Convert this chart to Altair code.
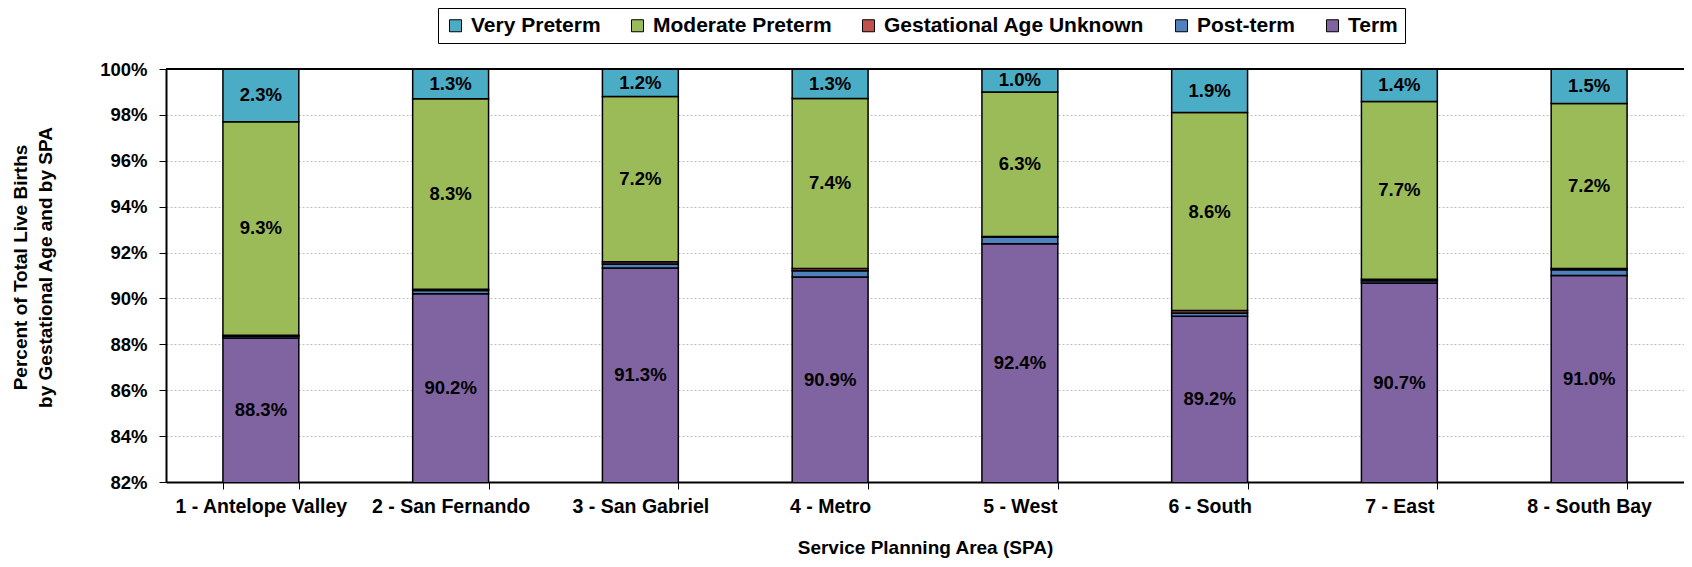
import altair as alt
import pandas as pd

spa = ["1 - Antelope Valley", "2 - San Fernando", "3 - San Gabriel", "4 - Metro",
       "5 - West", "6 - South", "7 - East", "8 - South Bay"]
term = [88.28, 90.20, 91.33, 90.93, 92.38, 89.22, 90.67, 91.00]
post_term = [0.07, 0.15, 0.17, 0.28, 0.30, 0.15, 0.10, 0.25]
unknown = [0.05, 0.05, 0.10, 0.10, 0.02, 0.10, 0.07, 0.05]
moderate = [9.3, 8.3, 7.2, 7.4, 6.3, 8.63, 7.74, 7.2]
very = [2.3, 1.3, 1.2, 1.3, 1.0, 1.9, 1.42, 1.5]

groups = ["Very Preterm", "Moderate Preterm", "Gestational Age Unknown", "Post-term", "Term"]
colors = ["#4BACC6", "#9BBB59", "#C0504D", "#4F81BD", "#8064A2"]
stack_order = {"Term": 0, "Post-term": 1, "Gestational Age Unknown": 2,
               "Moderate Preterm": 3, "Very Preterm": 4}
labelled = ["Term", "Moderate Preterm", "Very Preterm"]

series = {"Term": term, "Post-term": post_term, "Gestational Age Unknown": unknown,
          "Moderate Preterm": moderate, "Very Preterm": very}
rows = []
for g, vals in series.items():
    for s, v in zip(spa, vals):
        rows.append({"spa": s, "group": g, "value": v, "ord": stack_order[g]})
df = pd.DataFrame(rows)

FONT = "Liberation Sans"

x_enc = alt.X("spa:N", sort=spa, title="Service Planning Area (SPA)",
              scale=alt.Scale(paddingInner=0.6, paddingOuter=0.3),
              axis=alt.Axis(labelAngle=0, tickBand="extent", tickSize=7, tickColor="black",
                            tickWidth=1, domainColor="black", domainWidth=2,
                            labelFontSize=19.5, labelFontWeight="bold", labelColor="black",
                            labelPadding=8, titleFontSize=19, titleFontWeight="bold",
                            titlePadding=23, titleColor="black", grid=False))

y_scale = alt.Scale(domain=[82, 100], nice=False, zero=False)

base = alt.Chart(df).transform_stack(
    stack="value", groupby=["spa"], as_=["y0", "y1"],
    sort=[alt.SortField("ord", order="ascending")]
).transform_calculate(
    mid="(max(datum.y0, 82) + datum.y1) / 2",
    lab="format(datum.value, '.1f') + '%'"
)

bars = base.mark_bar(stroke="black", strokeWidth=1.5, clip=True).encode(
    x=x_enc,
    y=alt.Y("y0:Q", scale=y_scale,
            title=["Percent of Total Live Births", "by Gestational Age and by SPA"],
            axis=alt.Axis(values=[82, 84, 86, 88, 90, 92, 94, 96, 98, 100],
                          labelExpr="datum.value + '%'",
                          labelFontSize=18.5, labelFontWeight="bold", labelColor="black",
                          labelPadding=12, tickSize=7, tickColor="black",
                          domainColor="black", domainWidth=2,
                          grid=True, gridColor="#c0c0c0", gridDash=[2, 2], gridWidth=1,
                          titleFontSize=19, titleFontWeight="bold", titleColor="black",
                          titleX=-136, titleY=198, titleLineHeight=25)),
    y2="y1:Q",
    color=alt.Color("group:N", scale=alt.Scale(domain=groups, range=colors),
                    legend=alt.Legend(title=None, orient="none", direction="horizontal",
                                      legendX=272, legendY=-61,
                                      symbolType="square", symbolSize=144,
                                      symbolStrokeColor="black", symbolStrokeWidth=1,
                                      labelFontSize=21, labelFontWeight="bold",
                                      labelColor="black", labelLimit=400, labelOffset=5,
                                      columnPadding=26, padding=7,
                                      strokeColor="black", fillColor="white")),
    order=alt.Order("ord:Q", sort="ascending"),
)

texts = base.transform_filter(
    alt.FieldOneOfPredicate(field="group", oneOf=labelled)
).mark_text(fontSize=18.5, fontWeight="bold", color="black", baseline="middle").encode(
    x=alt.X("spa:N", sort=spa),
    y=alt.Y("mid:Q", scale=y_scale),
    text="lab:N",
)

top_rule = alt.Chart(pd.DataFrame({"k": [0]})).mark_rule(color="black", strokeWidth=2).encode(
    y=alt.datum(100)
)

chart = alt.layer(bars, texts, top_rule).properties(
    width=1518, height=413,
    autosize=alt.AutoSizeParams(type="none"),
    padding={"left": 158, "top": 61, "right": 0, "bottom": 77},
).configure(font=FONT).configure_view(stroke=None)

chart.save("out.html", embed_options={"renderer": "svg", "actions": False})
